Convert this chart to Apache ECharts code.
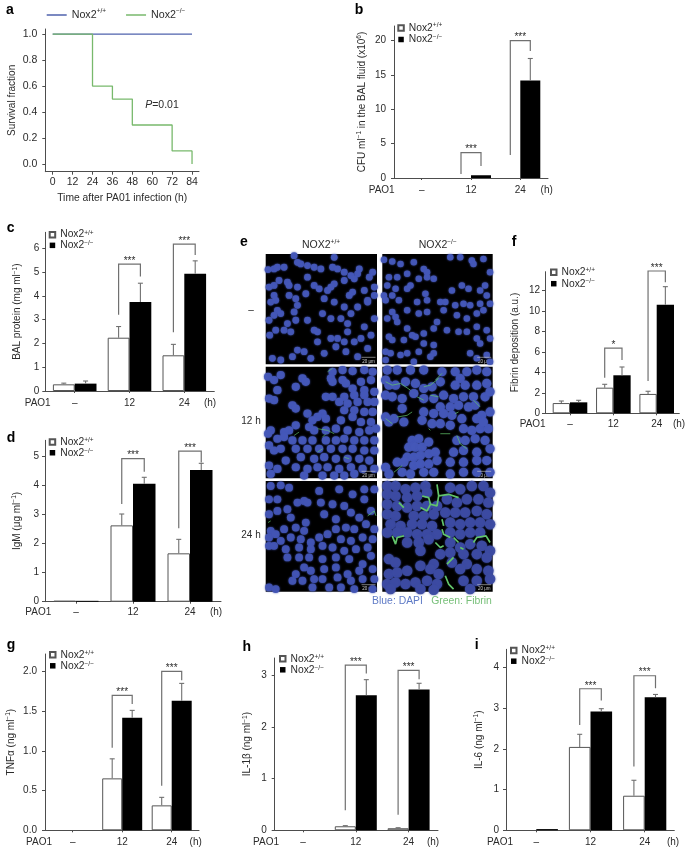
<!DOCTYPE html>
<html><head><meta charset="utf-8">
<style>html,body{margin:0;padding:0;background:#fff}#c{width:685px;height:849px;filter:blur(0.4px)}</style>
<script src="https://cdn.jsdelivr.net/npm/echarts@6/dist/echarts.min.js"></script>
</head><body><div id="c"></div>
<script>
// ---------- DATA ----------
const groupLabels = ['–', '12', '24'];
const surviveTicksX = [0, 12, 24, 36, 48, 60, 72, 84];
const surviveTicksY = [0, 0.2, 0.4, 0.6, 0.8, 1.0];
const surviveWt = [[0, 1], [84, 1]];
const surviveKo = [[0, 1], [24, 0.6], [36, 0.5], [48, 0.3], [72, 0.1], [84, 0]];

const bWt = [0, 0, 0], bKo = [0, 0.4, 14.2];
const bWtErr = [null, null, null], bKoErr = [null, null, 17.4];
const bBrackets = [[1, 0.6, 3.7, 1.75], [2, 3.35, 20, 18.5]], bStars = ['***', '***'];

const cWt = [0.28, 2.24, 1.5], cKo = [0.31, 3.74, 4.93];
const cWtErr = [0.33, 2.71, 1.96], cKoErr = [0.42, 4.53, 5.47];
const cBrackets = [[1, 3.2, 5.33, 4.81], [2, 2.47, 6.17, 5.72]], cStars = ['***', '***'];

const dWt = [0.03, 2.62, 1.66], dKo = [0.03, 4.05, 4.52];
const dWtErr = [null, 3.01, 2.14], dKoErr = [null, 4.27, 4.75];
const dBrackets = [[1, 3.35, 4.91, 4.46], [2, 2.52, 5.17, 4.78]], dStars = ['***', '***'];

const fWt = [1.0, 2.5, 1.89], fKo = [1.07, 3.71, 10.6];
const fWtErr = [1.2, 2.83, 2.15], fKoErr = [1.27, 4.52, 12.36];
const fBrackets = [[1, 3.48, 6.37, 5.2], [2, 3.15, 13.89, 12.78]], fStars = ['*', '***'];

const gWt = [0, 0.654, 0.314], gKo = [0, 1.417, 1.63];
const gWtErr = [null, 0.9, 0.415], gKoErr = [null, 1.51, 1.85];
const gBrackets = [[1, 1.04, 1.7, 1.59], [2, 0.56, 2.0, 1.89]], gStars = ['***', '***'];

const hWt = [0, 0.078, 0.04], hKo = [0, 2.62, 2.73];
const hWtErr = [null, 0.09, 0.05], hKoErr = [null, 2.92, 2.85];
const hBrackets = [[1, 0.39, 3.2, 3.04], [2, 0.3, 3.1, 2.93]], hStars = ['***', '***'];

const iWt = [0, 2.05, 0.85], iKo = [0.03, 2.92, 3.27];
const iWtErr = [null, 2.36, 1.23], iKoErr = [null, 2.99, 3.34];
const iBrackets = [[1, 2.59, 3.48, 3.19], [2, 1.57, 3.8, 3.49]], iStars = ['***', '***'];

// Microscopy panels: nuclei and fibrin strands (333-unit panel space, columns start at 5 and 355)
const cellsRow1Wt = [[30,50],[12,52],[40,45],[60,45],[90,10],[110,35],[100,30],[130,40],[150,45],[170,50],[210,15],[205,45],[220,50],[240,60],[285,50],[280,65],[325,60],[315,75],[260,70],[270,80],[30,100],[15,105],[45,85],[70,90],[75,100],[100,105],[130,75],[150,100],[165,110],[190,115],[210,95],[240,85],[200,105],[265,120],[255,130],[300,115],[330,105],[310,145],[330,130],[30,130],[20,150],[35,145],[75,130],[95,140],[125,125],[100,160],[180,140],[210,150],[240,165],[280,165],[310,150],[40,175],[30,190],[50,185],[90,180],[15,205],[70,215],[60,235],[80,240],[95,205],[130,205],[150,235],[160,240],[175,185],[200,200],[230,200],[260,185],[250,215],[300,225],[330,200],[17,250],[35,235],[200,260],[220,260],[250,240],[290,260],[320,250],[270,270],[240,270],[100,295],[85,315],[140,320],[180,305],[215,285],[245,300],[280,315],[310,290],[50,325],[25,320],[160,270],[120,300]];
const cellsRow1Ko = [[360,22],[385,28],[410,35],[450,30],[480,50],[490,60],[375,75],[400,75],[430,65],[465,80],[490,75],[510,80],[370,100],[360,130],[395,110],[430,110],[440,100],[385,130],[365,145],[405,145],[485,125],[490,145],[460,150],[530,150],[545,150],[565,115],[595,100],[615,110],[650,115],[665,100],[630,35],[625,25],[560,15],[590,15],[660,20],[680,60],[540,175],[575,160],[600,155],[620,160],[650,155],[680,155],[670,130],[385,180],[370,200],[395,195],[430,175],[465,185],[490,180],[520,210],[580,190],[610,200],[640,185],[660,175],[400,210],[430,230],[445,250],[455,255],[375,255],[510,230],[480,245],[550,235],[585,240],[610,240],[640,225],[670,235],[640,260],[650,275],[680,260],[385,265],[420,265],[480,275],[510,280],[410,310],[365,300],[380,305],[430,305],[465,300],[510,305],[500,315],[365,325],[620,305],[640,320],[670,310],[450,330],[680,330]];
const cellsRow2Wt = [[12,35],[30,45],[50,30],[115,40],[125,50],[95,65],[40,75],[15,100],[30,105],[205,20],[200,40],[205,50],[235,15],[265,18],[300,15],[325,20],[235,45],[245,55],[265,70],[290,50],[320,45],[300,75],[330,80],[240,95],[270,90],[300,90],[185,95],[205,95],[225,110],[250,115],[280,110],[310,110],[330,110],[85,120],[95,130],[130,145],[175,145],[160,155],[145,165],[185,160],[240,135],[270,135],[265,155],[300,140],[325,140],[230,165],[290,170],[320,170],[95,180],[75,195],[60,200],[20,195],[12,205],[135,185],[150,195],[185,195],[215,190],[250,195],[285,200],[315,195],[335,190],[40,220],[60,215],[85,225],[115,225],[145,225],[185,225],[215,225],[240,220],[270,225],[300,225],[330,225],[15,240],[30,255],[50,250],[95,250],[130,250],[165,250],[200,250],[235,250],[265,250],[300,255],[330,255],[65,285],[110,275],[150,280],[180,275],[215,280],[250,280],[285,280],[315,285],[15,300],[40,310],[95,305],[130,310],[160,305],[190,305],[225,310],[260,305],[295,310],[330,310],[20,325],[120,330],[175,330],[210,330],[240,330],[270,325]];
const cellsRow2Ko = [[370,15],[400,15],[440,15],[480,15],[575,20],[590,40],[610,20],[640,15],[670,20],[375,60],[365,45],[395,60],[425,50],[455,55],[480,70],[505,65],[530,50],[535,20],[575,60],[605,60],[640,60],[670,55],[365,90],[385,95],[415,100],[450,85],[480,100],[510,100],[540,90],[570,100],[600,95],[630,95],[665,95],[680,80],[530,125],[560,125],[585,120],[615,125],[635,120],[365,155],[375,170],[390,160],[420,170],[480,140],[475,165],[510,145],[540,145],[565,150],[595,160],[640,160],[655,150],[680,140],[415,130],[505,175],[530,175],[560,180],[600,190],[625,195],[650,190],[675,190],[445,225],[465,220],[435,245],[455,245],[475,245],[495,230],[580,225],[605,225],[635,220],[665,225],[660,170],[430,275],[450,275],[470,270],[495,265],[515,260],[570,260],[600,255],[640,260],[680,250],[400,290],[420,290],[450,300],[470,295],[495,295],[520,285],[560,290],[600,290],[640,285],[670,285],[365,305],[375,325],[415,320],[440,325],[480,320],[510,320],[560,325],[600,320],[640,320],[680,320]];
const cellsRow3Wt = [[20,20],[50,18],[75,25],[100,70],[120,65],[130,70],[165,35],[225,30],[265,45],[300,30],[330,30],[15,60],[40,60],[170,70],[205,75],[240,80],[300,60],[180,105],[215,120],[125,130],[80,115],[15,105],[40,95],[70,90],[260,100],[285,115],[320,95],[20,155],[15,175],[35,165],[60,150],[95,145],[120,155],[50,185],[80,175],[110,180],[140,190],[165,175],[190,165],[215,150],[245,145],[270,150],[305,135],[330,150],[230,180],[260,185],[295,175],[325,180],[15,200],[30,200],[65,210],[105,205],[140,210],[175,200],[205,205],[240,215],[275,210],[310,205],[70,235],[105,235],[135,235],[175,240],[215,235],[255,240],[295,255],[320,230],[120,265],[95,285],[140,275],[180,270],[215,265],[250,285],[285,275],[325,270],[85,305],[115,305],[150,300],[175,300],[220,295],[260,305],[295,300],[330,300],[15,325],[35,330],[145,325],[195,325],[230,325],[270,330],[325,330]];
const cellsRow3Ko = [[370,20],[395,20],[425,30],[455,25],[485,20],[370,45],[395,50],[430,55],[460,50],[490,40],[560,25],[590,30],[625,20],[660,20],[680,40],[370,75],[400,80],[430,85],[460,80],[490,80],[520,80],[550,60],[580,70],[610,60],[645,60],[675,70],[370,105],[395,110],[450,110],[480,110],[510,105],[545,100],[575,100],[605,100],[640,95],[670,105],[380,135],[410,140],[445,135],[475,135],[505,140],[560,130],[590,135],[620,130],[650,130],[680,135],[370,160],[400,160],[430,160],[460,165],[490,165],[520,165],[560,160],[590,165],[620,160],[650,160],[430,190],[465,190],[495,180],[560,190],[590,205],[620,195],[655,200],[680,215],[375,240],[395,250],[470,215],[530,225],[560,220],[600,225],[640,225],[670,235],[510,255],[565,250],[610,255],[375,285],[400,280],[430,275],[470,260],[500,270],[525,285],[590,270],[640,270],[675,275],[370,315],[395,310],[425,315],[455,310],[490,305],[520,315],[600,305],[640,305],[680,300],[380,330],[470,330],[510,332],[620,330]];
const fibrinRow1Wt = [], fibrinRow1Ko = [];
const fibrinRow2Wt = [[[190,20],[205,10]],[[160,190],[190,195],[210,205]],[[175,215],[185,205]],[[160,260],[175,250]],[[240,275],[255,280]],[[90,210],[105,200]]];
const fibrinRow2Ko = [[[365,50],[385,60],[410,55],[440,75]],[[480,65],[500,60],[525,40]],[[460,95],[480,105]],[[500,90],[525,95]],[[365,160],[385,175]],[[400,155],[430,150],[445,140]],[[575,145],[585,140]],[[495,190],[500,195]],[[530,205],[560,205]],[[580,210],[590,235],[610,250]],[[630,105],[650,125]],[[390,320],[415,300]],[[535,25],[515,45]]];
const fibrinRow3Wt = [[[310,110],[330,95],[335,110]],[[12,130],[20,125]]];
const fibrinRow3Ko = [[[475,50],[495,55],[500,75],[520,80],[525,50],[520,15]],[[525,50],[555,45],[585,55]],[[500,75],[490,95],[470,85]],[[535,150],[540,165],[560,175]],[[515,190],[530,205],[540,200]],[[385,170],[395,195],[400,175],[420,170]],[[630,190],[640,175],[668,170],[680,190]],[[570,175],[585,190]],[[590,205],[600,210]],[[545,290],[555,315],[570,330]],[[550,255],[570,235]],[[535,120],[540,140]],[[405,70],[420,85]]];

// ---------- STYLE / LAYOUT ----------
const FONT = '"Liberation Sans", Arial, sans-serif';
const AXIS = '#4d4d4d', TEXT = '#2b2b2b', ERR = '#707070';
const sup = {fontFamily: FONT, fontSize: 6.5, lineHeight: 12, verticalAlign: 'top', color: TEXT};
const rich = {sup};
const supOf = s => s.replace(/\^\(([^)]*)\)/g, '{sup|$1}');

const barPanels = [
 {id:'b', wt:bWt, ko:bKo, wtErr:bWtErr, koErr:bKoErr, br:bBrackets, stars:bStars,
  left:394, right:548, y0:178, top:26, yMax:22.13, c0:421.7, dc:49.3, w:20, ticks:[0,5,10,15,20], labelY:190, yMargin:8,
  name:'CFU ml^(−1) in the BAL fluid (x10^(6))', nameGap:26, pao:381.7, h:546.7, lg:[397.3,22.1,11.6]},
 {id:'c', wt:cWt, ko:cKo, wtErr:cWtErr, koErr:cKoErr, br:cBrackets, stars:cStars,
  left:45.3, right:214.3, y0:391, top:232.3, yMax:6.67, c0:74.7, dc:54.8, w:21.8, ticks:[0,1,2,3,4,5,6], labelY:403, yMargin:6,
  name:'BAL protein (mg ml^(−1))', nameGap:22, pao:37.7, h:210, lg:[48.7,229.3,10.7]},
 {id:'d', wt:dWt, ko:dKo, wtErr:dWtErr, koErr:dKoErr, br:dBrackets, stars:dStars,
  left:45, right:221, y0:601.7, top:440.3, yMax:5.54, c0:76, dc:57, w:22.5, ticks:[0,1,2,3,4,5], labelY:612, yMargin:6,
  name:'IgM (μg ml^(−1))', nameGap:22, pao:38.3, h:216, lg:[48.7,436.7,10.7]},
 {id:'f', wt:fWt, ko:fKo, wtErr:fWtErr, koErr:fKoErr, br:fBrackets, stars:fStars,
  left:545, right:679.3, y0:413.3, top:271.7, yMax:13.82, c0:570, dc:43.35, w:17.3, ticks:[0,2,4,6,8,10,12], labelY:424.3, yMargin:5,
  name:'Fibrin deposition (a.u.)', nameGap:24, pao:532.7, h:679, lg:[550,266.6,11.4]},
 {id:'g', wt:gWt, ko:gKo, wtErr:gWtErr, koErr:gKoErr, br:gBrackets, stars:gStars,
  left:45, right:199, y0:830.3, top:654, yMax:2.22, c0:72.7, dc:49.5, w:20, ticks:[0,0.5,1,1.5,2], fixed:1, labelY:842.3, yMargin:8,
  name:'TNFα (ng ml^(−1))', nameGap:28, pao:39, h:195.7, lg:[49,649.3,11]},
 {id:'h', wt:hWt, ko:hKo, wtErr:hWtErr, koErr:hKoErr, br:hBrackets, stars:hStars,
  left:274.7, right:438, y0:830.3, top:658, yMax:3.34, c0:303, dc:52.8, w:21, ticks:[0,1,2,3], labelY:842.3, yMargin:8,
  name:'IL-1β (ng ml^(−1))', nameGap:21, pao:266, h:433, lg:[279,653.3,11]},
 {id:'i', wt:iWt, ko:iKo, wtErr:iWtErr, koErr:iKoErr, br:iBrackets, stars:iStars,
  left:506, right:674.3, y0:830.3, top:649.3, yMax:4.45, c0:536.3, dc:54.2, w:21.6, ticks:[0,1,2,3,4], labelY:842.3, yMargin:7,
  name:'IL-6 (ng ml^(−1))', nameGap:21, pao:500, h:673, lg:[510,645,10.8]}
];

const microPanels = [
 {cells:cellsRow1Wt, fibrin:fibrinRow1Wt, col:0, t:254, b:364.3, color:'#4557b8', size:6.8, fw:.8},
 {cells:cellsRow1Ko, fibrin:fibrinRow1Ko, col:1, t:254, b:364.3, color:'#4557b8', size:6.5, fw:.8},
 {cells:cellsRow2Wt, fibrin:fibrinRow2Wt, col:0, t:366.7, b:478.3, color:'#4557b8', size:8.2, fw:.8},
 {cells:cellsRow2Ko, fibrin:fibrinRow2Ko, col:1, t:366.7, b:478.3, color:'#4557b8', size:9.2, fw:.9},
 {cells:cellsRow3Wt, fibrin:fibrinRow3Wt, col:0, t:481, b:591.7, color:'#4254b4', size:7.8, fw:.9},
 {cells:cellsRow3Ko, fibrin:fibrinRow3Ko, col:1, t:481, b:591.7, color:'#3c4ba2', size:10.5, fw:1.7}
];
const micCols = [[265.7, 377, 5, 338], [382.3, 492.7, 355, 688]];

const grid = [], xAxis = [], yAxis = [], series = [], legend = [], texts = [];
const axisLine = {show:true, onZero:false, lineStyle:{color:AXIS, width:1}};
const labelBase = {color:TEXT, fontFamily:FONT, fontSize:10};

function legendFormatter(name){
  const g = name.split('|')[1];
  return 'Nox2{sup|' + g + '}';
}
function addText(text, x, y, o){
  texts.push({type:'text', x, y, silent:true, style:Object.assign({text, fill:TEXT, font:'10px '+FONT, align:'center', verticalAlign:'middle', rich}, o||{})});
}

// ---- panel a ----
grid.push({left:45.3, top:29, width:153.7, height:142.7});
xAxis.push({type:'value', gridIndex:0, min:-4.46, max:88.2, splitLine:{show:false}, axisLine,
  axisTick:{show:true, length:3, lineStyle:{color:AXIS}, customValues:surviveTicksX},
  axisLabel:Object.assign({}, labelBase, {fontSize:10.5, margin:5, customValues:surviveTicksX, formatter:v=>String(v)}),
  name:'Time after PA01 infection (h)', nameLocation:'middle', nameGap:21, nameTextStyle:{color:TEXT, fontFamily:FONT, fontSize:10.3}});
yAxis.push({type:'value', gridIndex:0, min:-0.06, max:1.04, splitLine:{show:false}, axisLine,
  axisTick:{show:true, length:3, lineStyle:{color:AXIS}, customValues:surviveTicksY},
  axisLabel:Object.assign({}, labelBase, {fontSize:10.5, margin:8, customValues:surviveTicksY, formatter:v=>v.toFixed(1)}),
  name:'Survival fraction', nameLocation:'middle', nameRotate:90, nameGap:28, nameTextStyle:{color:TEXT, fontFamily:FONT, fontSize:10}});
series.push({type:'line', name:'a|+/+', xAxisIndex:0, yAxisIndex:0, data:surviveWt, symbol:'none', lineStyle:{color:'#4f62ad', width:1.3}, itemStyle:{color:'#4f62ad'}});
series.push({type:'line', name:'a|−/−', xAxisIndex:0, yAxisIndex:0, data:surviveKo, step:'end', symbol:'none', lineStyle:{color:'#78b96c', width:1.3}, itemStyle:{color:'#78b96c'}});
legend.push({show:true, orient:'horizontal', left:46.7, top:8, padding:0, itemWidth:20, itemHeight:1.5, itemGap:20,
  data:[{name:'a|+/+', icon:'rect'},{name:'a|−/−', icon:'rect'}],
  formatter:legendFormatter, selectedMode:false, textStyle:{color:TEXT, fontFamily:FONT, fontSize:10.7, lineHeight:14, rich:{sup:{fontFamily:FONT,fontSize:6.5,lineHeight:14,verticalAlign:'top',color:TEXT}}}});

// ---- bar panels ----
function errRender(p, sign){
  return function(params, api){
    const top = api.value(1);
    const pc = api.coord([api.value(0), api.value(2)]);
    const pt = api.coord([api.value(0), top]);
    const x = pc[0] + sign*p.w/2;
    return {type:'group', children:[
      {type:'line', shape:{x1:x, y1:pc[1], x2:x, y2:pt[1]}, style:{stroke:ERR, lineWidth:1.1}},
      {type:'line', shape:{x1:x-2.5, y1:pt[1], x2:x+2.5, y2:pt[1]}, style:{stroke:ERR, lineWidth:1.1}}
    ]};
  };
}
function bracketRender(p){
  return function(params, api){
    const c = api.value(0);
    const a = api.coord([c, api.value(1)]), t = api.coord([c, api.value(2)]), b = api.coord([c, api.value(3)]);
    const xl = a[0]-p.w/2, xr = a[0]+p.w/2;
    return {type:'group', children:[
      {type:'polyline', shape:{points:[[xl,a[1]],[xl,t[1]],[xr,t[1]],[xr,b[1]]]}, style:{stroke:ERR, lineWidth:1.2, fill:null}},
      {type:'text', x:(xl+xr)/2, y:t[1]+2, style:{text:p.stars[params.dataIndex], fill:TEXT, font:'10px '+FONT, align:'center', verticalAlign:'bottom'}}
    ]};
  };
}
barPanels.forEach(function(p, n){
  const gi = grid.length;
  grid.push({left:p.left, top:p.top, width:p.right-p.left, height:p.y0-p.top});
  const xTicks = [0,1,2];
  xAxis.push({type:'value', gridIndex:gi, min:-(p.c0-p.left)/p.dc, max:(p.right-p.c0)/p.dc, splitLine:{show:false}, axisLine,
    axisTick:{show:true, length:2, lineStyle:{color:AXIS}, customValues:xTicks},
    axisLabel:Object.assign({}, labelBase, {margin:p.labelY-p.y0-5, customValues:xTicks, formatter:v=>groupLabels[v]})});
  yAxis.push({type:'value', gridIndex:gi, min:0, max:p.yMax, splitLine:{show:false}, axisLine,
    axisTick:{show:true, length:3, lineStyle:{color:AXIS}, customValues:p.ticks},
    axisLabel:Object.assign({}, labelBase, {margin:p.yMargin, customValues:p.ticks, formatter:v=>p.fixed?v.toFixed(1):String(v)}),
    name:supOf(p.name), nameLocation:'middle', nameRotate:90, nameGap:p.nameGap,
    nameTextStyle:{color:TEXT, fontFamily:FONT, fontSize:10, lineHeight:12, rich}});
  const nWt = p.id+'|+/+', nKo = p.id+'|−/−';
  const idx = {xAxisIndex:gi, yAxisIndex:gi};
  series.push(Object.assign({type:'bar', name:nWt, barWidth:p.w, barGap:'0%',
    data:p.wt.map((v,i)=>v===0?{value:[i,v], itemStyle:{borderWidth:0}}:[i,v]),
    itemStyle:{color:'#fff', borderColor:'#555', borderWidth:1}}, idx));
  series.push(Object.assign({type:'bar', name:nKo, barWidth:p.w, barGap:'0%', data:p.ko.map((v,i)=>[i,v]),
    itemStyle:{color:'#000', borderColor:'#000', borderWidth:0}}, idx));
  const errData = (vals, errs) => errs.map((e,i)=>e==null?null:[i,e,vals[i]]).filter(Boolean);
  series.push(Object.assign({type:'custom', name:p.id+' err wt', renderItem:errRender(p,-1), data:errData(p.wt,p.wtErr), silent:true, z:3}, idx));
  series.push(Object.assign({type:'custom', name:p.id+' err ko', renderItem:errRender(p,1), data:errData(p.ko,p.koErr), silent:true, z:3}, idx));
  series.push(Object.assign({type:'custom', name:p.id+' brackets', renderItem:bracketRender(p), data:p.br, silent:true, z:4}, idx));
  legend.push({show:true, orient:'vertical', left:p.lg[0], top:p.lg[1], padding:0, itemWidth:5.5, itemHeight:5.5, itemGap:0,
    data:[{name:nWt, icon:'rect'},{name:nKo, icon:'rect'}],
    formatter:legendFormatter, selectedMode:false,
    textStyle:{color:TEXT, fontFamily:FONT, fontSize:10.3, lineHeight:p.lg[2], rich:{sup:{fontFamily:FONT,fontSize:6.5,lineHeight:p.lg[2],verticalAlign:'top',color:TEXT}}}});
  addText('PAO1', p.pao, p.labelY);
  addText('(h)', p.h, p.labelY);
});

// ---- microscopy panels ----
microPanels.forEach(function(m, n){
  const gi = grid.length, col = micCols[m.col];
  grid.push({left:col[0], top:m.t, width:col[1]-col[0], height:m.b-m.t, show:true, backgroundColor:'#000', borderWidth:0});
  xAxis.push({type:'value', gridIndex:gi, min:col[2], max:col[3], show:false, splitLine:{show:false}});
  yAxis.push({type:'value', gridIndex:gi, min:5, max:338, inverse:true, show:false, splitLine:{show:false}});
  series.push({type:'scatter', name:'nuclei '+n, xAxisIndex:gi, yAxisIndex:gi, data:m.cells, symbolSize:m.size, silent:true,
    itemStyle:{color:m.color, opacity:.95, shadowBlur:2, shadowColor:m.color}});
  const path = [];
  m.fibrin.forEach(s=>{ s.forEach(pt=>path.push(pt)); path.push([NaN,NaN]); });
  if(path.length) series.push({type:'line', name:'fibrin '+n, xAxisIndex:gi, yAxisIndex:gi, data:path, symbol:'none', silent:true, connectNulls:false, z:3,
    lineStyle:{color:'#62c46a', width:m.fw, opacity:n===5?1:.8}});
  // scale bar
  const xe = col[1]-1.5, yb = m.b-7;
  texts.push({type:'line', silent:true, z:20, shape:{x1:xe-14, y1:yb, x2:xe, y2:yb}, style:{stroke:'#cfcfcf', lineWidth:.6}});
  addText('20 μm', xe-7, yb+4, {font:'4.5px '+FONT, fill:'#d0d0d0'});
});

// ---- free text ----
const letter = {font:'bold 14px '+FONT, fill:'#000'};
[['a',10,10],['b',359,10],['c',10.7,227.7],['d',11,437.7],['e',244,241.7],['f',514,241.7],['g',11,645],['h',246.7,646.7],['i',476.7,645]]
  .forEach(l=>addText(l[0], l[1], l[2], letter));
addText('{it|P}=0.01', 162, 105, {font:'10.5px '+FONT, rich:{it:{fontStyle:'italic', fontFamily:FONT, fontSize:10.5, fill:TEXT, color:TEXT}}});
addText('NOX2{sup|+/+}', 321, 245, {font:'10.5px '+FONT});
addText('NOX2{sup|−/−}', 437.7, 245, {font:'10.5px '+FONT});
addText('–', 251, 310);
addText('12 h', 251, 421.7);
addText('24 h', 251, 535);
addText('Blue: DAPI', 397.5, 600.7, {fill:'#5f7bc6', font:'10.4px '+FONT});
addText('Green: Fibrin', 461.5, 600.7, {fill:'#78c07a', font:'10.4px '+FONT});

const chart = echarts.init(document.getElementById('c'), null, {renderer:'canvas'});
chart.setOption({animation:false, backgroundColor:'#fff', textStyle:{fontFamily:FONT}, tooltip:{show:false},
  grid, xAxis, yAxis, legend, series, graphic:{elements:texts}});
</script></body></html>
